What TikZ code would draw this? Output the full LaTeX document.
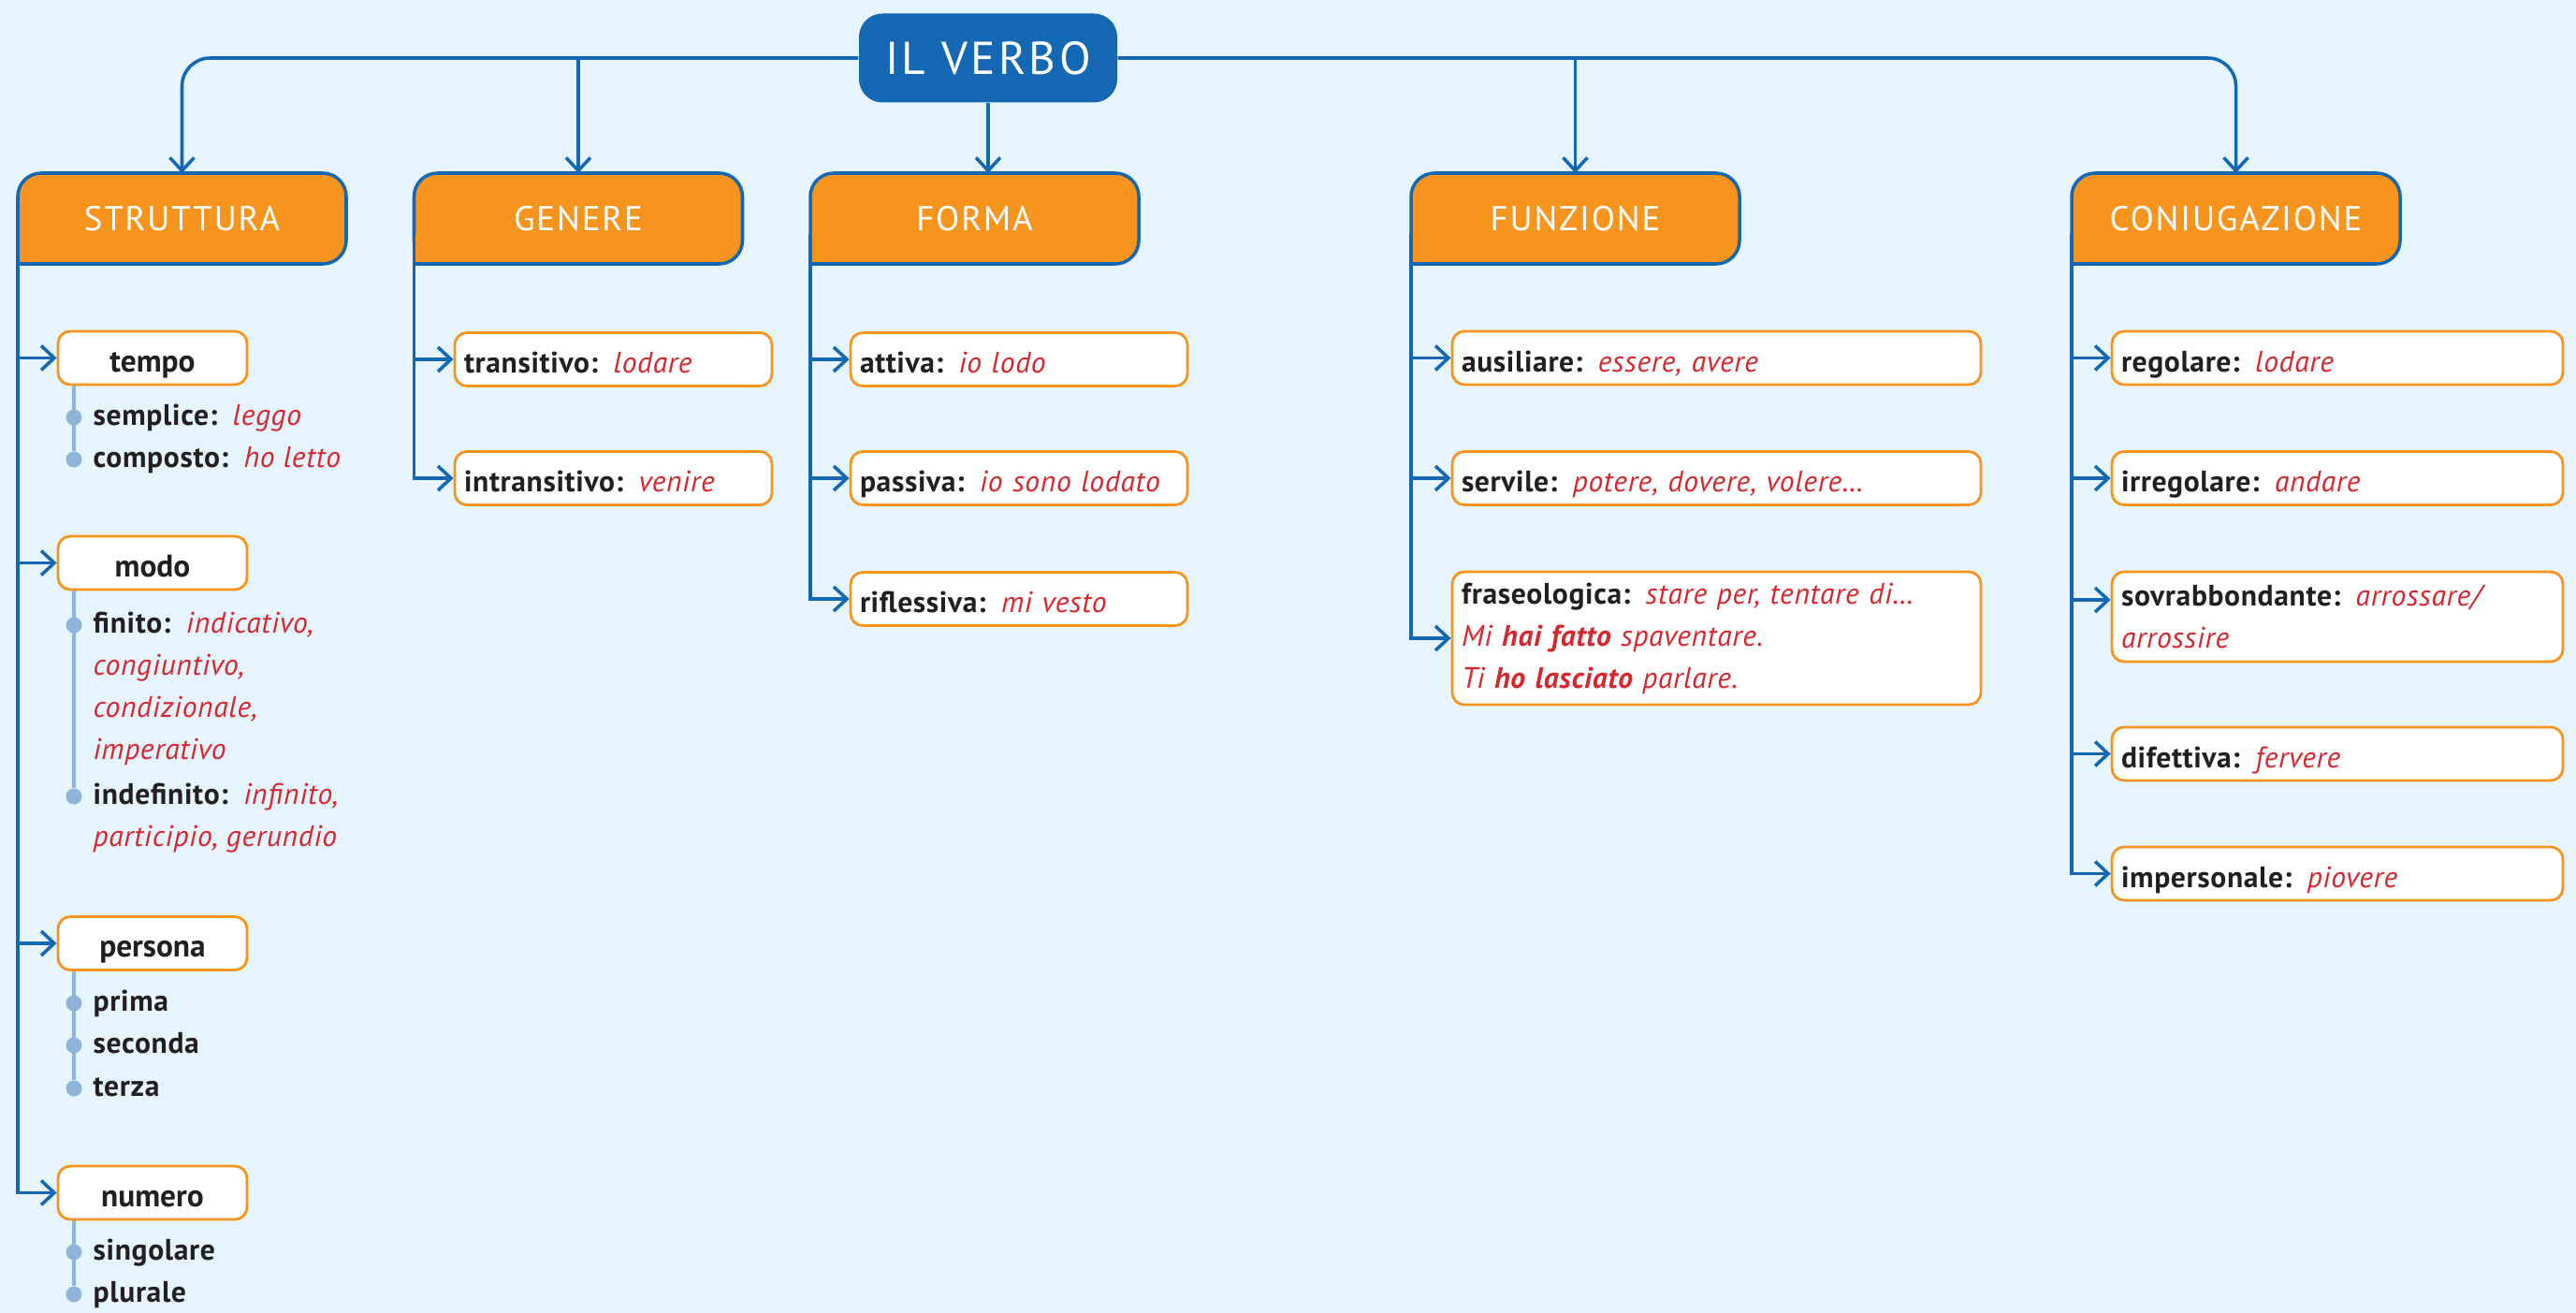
\documentclass[tikz,border=0pt]{standalone}
\usepackage{fontspec}
\setmainfont{PT Sans}
\usetikzlibrary{arrows.meta}

\definecolor{sfondo}{HTML}{E6F5FD}
\definecolor{blu}{HTML}{1367B3}
\definecolor{arancio}{HTML}{F7941D}
\definecolor{rosso}{HTML}{D7262E}
\definecolor{nero}{HTML}{231F20}
\definecolor{azzurro}{HTML}{8FB4D9}

% esempio in rosso corsivo, voce con etichetta in grassetto
\newcommand{\es}[1]{{\color{rosso}\itshape #1}}
\newcommand{\voce}[2]{\textbf{#1:}\enspace\es{#2}}
% angolo in basso a sinistra senza arrotondamento
\newcommand{\spigolo}[1]{%
  \fill[arancio] ([shift={(0.018,0.018)}]#1.south west) rectangle ++(0.3,0.3);
  \draw[blu, line width=1pt] ([yshift=0.32cm]#1.south west) -- (#1.south west) -- ++(0.32,0);}

\begin{document}
\begin{tikzpicture}[
  freccia/.style={blu, line width=1pt, -{Straight Barb[length=1.4mm,width=2.6mm]}},
  radice/.style={fill=blu, text=white, rounded corners=0.25cm, minimum width=2.76cm,
    minimum height=0.95cm, font=\fontsize{14}{16}\selectfont\addfontfeatures{LetterSpace=7}},
  categoria/.style={fill=arancio, draw=blu, line width=1pt, rounded corners=0.25cm, text=white,
    outer sep=0pt, minimum width=3.51cm, minimum height=0.97cm,
    font=\fontsize{10.5}{12}\selectfont\addfontfeatures{LetterSpace=5}},
  foglia/.style={fill=white, draw=arancio, line width=0.8pt, rounded corners=0.13cm, text=nero,
    inner xsep=0.1cm, inner ysep=0.05cm, text height=0.38cm, text depth=0.09cm, minimum height=0.57cm,
    align=left, font=\fontsize{9}{12.8}\selectfont\addfontfeatures{LetterSpace=2}},
  titolo/.style={foglia, text width=1.82cm, align=center, font=\fontsize{9.5}{11}\selectfont\bfseries},
  multi/.style={text height=, text depth=},
  punto/.style={circle, fill=azzurro, inner sep=0pt, minimum size=0.17cm},
  ramo/.style={azzurro, line width=1.4pt},
  elenco/.style={anchor=mid west, inner sep=0pt, text=nero,
    font=\fontsize{9}{12.8}\selectfont\addfontfeatures{LetterSpace=2}}]

\useasboundingbox (0,0) rectangle (27.53,-14.03);
\fill[sfondo] (0,0) rectangle (27.53,-14.03);

\node[radice] (verbo) at (10.56,-0.62) {IL VERBO};

\node[categoria] (struttura) at (1.945,-2.335) {STRUTTURA};
\node[categoria] (genere) at (6.18,-2.335) {GENERE};
\node[categoria] (forma) at (10.415,-2.335) {FORMA};
\node[categoria] (funzione) at (16.835,-2.335) {FUNZIONE};
\node[categoria] (coniugazione) at (23.895,-2.335) {CONIUGAZIONE};
\foreach \c in {struttura,genere,forma,funzione,coniugazione} {\spigolo{\c}}

\draw[freccia, rounded corners=0.3cm] (verbo.west) -| (struttura.north);
\draw[freccia, rounded corners=0.3cm] (verbo.east) -| (coniugazione.north);
\draw[freccia] (verbo.west -| genere.north) -- (genere.north);
\draw[freccia] (verbo.south) -- (verbo.south |- forma.north);
\draw[freccia] (verbo.east -| funzione.north) -- (funzione.north);

% struttura
\node[titolo] (tempo) at (1.63,-3.825) {tempo};
\node[titolo] (modo) at (1.63,-6.015) {modo};
\node[titolo] (persona) at (1.63,-10.08) {persona};
\node[titolo] (numero) at (1.63,-12.745) {numero};
\foreach \t in {tempo,modo,persona,numero} \draw[freccia] (struttura.south west) |- (\t.west);

\node[punto] (semplice) at (0.79,-4.46) {};
\node[punto] (composto) at (0.79,-4.91) {};
\draw[ramo] (tempo.south -| semplice) -- (composto);
\node[elenco] (tsemplice) at (0.99,-4.46) {\voce{semplice}{leggo}};
\node[elenco] (tcomposto) at (0.99,-4.91) {\voce{composto}{ho letto}};

\node[punto] (finito) at (0.79,-6.68) {};
\node[punto] (indefinito) at (0.79,-8.51) {};
\draw[ramo] (modo.south -| finito) -- (indefinito);
\node[elenco, anchor=base west, align=left] (tfinito) at (0.99,-8.11)
  {\voce{finito}{indicativo,}\\ \es{congiuntivo,}\\ \es{condizionale,}\\ \es{imperativo}};
\node[elenco, anchor=base west, align=left] (tindefinito) at (0.99,-9.04)
  {\voce{indefinito}{infinito,}\\ \es{participio, gerundio}};

\foreach \n/\y in {prima/-10.72, seconda/-11.17, terza/-11.63} {
  \node[punto] (\n) at (0.79,\y) {};
  \node[elenco] (t\n) at (0.99,\y) {\textbf{\n}};
}
\draw[ramo] (persona.south -| prima) -- (terza);

\foreach \n/\y in {singolare/-13.38, plurale/-13.83} {
  \node[punto] (\n) at (0.79,\y) {};
  \node[elenco] (t\n) at (0.99,\y) {\textbf{\n}};
}
\draw[ramo] (numero.south -| singolare) -- (plurale);

% genere
\node[foglia, text width=3.19cm] (transitivo) at (6.555,-3.84) {\voce{transitivo}{lodare}};
\node[foglia, text width=3.19cm] (intransitivo) at (6.555,-5.11) {\voce{intransitivo}{venire}};
\foreach \t in {transitivo,intransitivo} \draw[freccia] (genere.south west) |- (\t.west);

% forma
\node[foglia, text width=3.4cm] (attiva) at (10.89,-3.84) {\voce{attiva}{io lodo}};
\node[foglia, text width=3.4cm] (passiva) at (10.89,-5.11) {\voce{passiva}{io sono lodato}};
\node[foglia, text width=3.4cm] (riflessiva) at (10.89,-6.40) {\voce{riflessiva}{mi vesto}};
\foreach \t in {attiva,passiva,riflessiva} \draw[freccia] (forma.south west) |- (\t.west);

% funzione
\node[foglia, text width=5.45cm] (ausiliare) at (18.345,-3.825) {\voce{ausiliare}{essere, avere}};
\node[foglia, text width=5.45cm] (servile) at (18.345,-5.11) {\voce{servile}{potere, dovere, volere…}};
\node[foglia, multi, text width=5.45cm, minimum height=1.42cm] (fraseologica) at (18.345,-6.82)
  {\voce{fraseologica}{stare per, tentare di…}\\ \es{Mi \textbf{hai fatto} spaventare.}\\ \es{Ti \textbf{ho lasciato} parlare.}};
\foreach \t in {ausiliare,servile,fraseologica} \draw[freccia] (funzione.south west) |- (\t.west);

% coniugazione
\node[foglia, text width=4.62cm] (regolare) at (24.98,-3.825) {\voce{regolare}{lodare}};
\node[foglia, text width=4.62cm] (irregolare) at (24.98,-5.11) {\voce{irregolare}{andare}};
\node[foglia, multi, text width=4.62cm, minimum height=0.96cm] (sovrabbondante) at (24.98,-6.59)
  {\voce{sovrabbondante}{arrossare/}\\ \es{arrossire}};
\node[foglia, text width=4.62cm] (difettiva) at (24.98,-8.055) {\voce{difettiva}{fervere}};
\node[foglia, text width=4.62cm] (impersonale) at (24.98,-9.335) {\voce{impersonale}{piovere}};
\foreach \t in {regolare,irregolare,difettiva,impersonale} \draw[freccia] (coniugazione.south west) |- (\t.west);
\draw[freccia] (coniugazione.south west) |- ([yshift=0.18cm]sovrabbondante.west);

\end{tikzpicture}
\end{document}
